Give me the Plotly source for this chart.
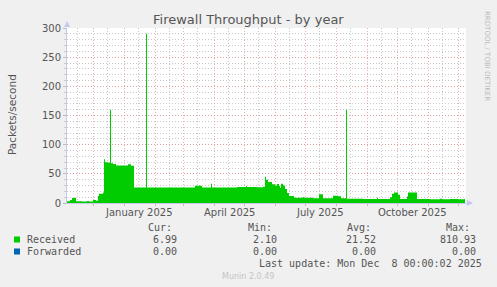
import plotly.graph_objects as go

# ---------------- data ----------------
dates = [
    "2024-11-05", "2024-11-08", "2024-11-10", "2024-11-12", "2024-11-14", "2024-11-20",
    "2024-11-25", "2024-11-27", "2024-12-01", "2024-12-04", "2024-12-06", "2024-12-07",
    "2024-12-11", "2024-12-12", "2024-12-13", "2024-12-16", "2024-12-18", "2024-12-19",
    "2024-12-21", "2024-12-24", "2025-01-05", "2025-01-08", "2025-01-11", "2025-01-23",
    "2025-01-24", "2025-03-13", "2025-03-20", "2025-03-29", "2025-03-30", "2025-04-24",
    "2025-05-03", "2025-05-04", "2025-05-14", "2025-05-20", "2025-05-22", "2025-05-23",
    "2025-05-25", "2025-05-29", "2025-06-01", "2025-06-03", "2025-06-05", "2025-06-06",
    "2025-06-07", "2025-06-09", "2025-06-11", "2025-06-13", "2025-06-15", "2025-06-20",
    "2025-06-29", "2025-06-30", "2025-07-09", "2025-07-15", "2025-07-19", "2025-07-29",
    "2025-08-03", "2025-08-06", "2025-08-11", "2025-08-12", "2025-08-28", "2025-09-11",
    "2025-09-12", "2025-09-24", "2025-09-26", "2025-09-28", "2025-10-02", "2025-10-04",
    "2025-10-11", "2025-10-12", "2025-10-21", "2025-11-03", "2025-11-13", "2025-11-15",
    "2025-11-23", "2025-12-01", "2025-12-07", "2025-12-08",
]
received = [
    3, 5, 8.5, 9, 3, 2.5,
    3.5, 2.5, 5, 4, 12, 16,
    18, 75, 70, 69, 160, 68,
    67, 64.5, 66.5, 64, 26.5, 290,
    26.5, 29.5, 26.5, 33, 26.5, 27.5,
    29, 27.5, 27, 28, 45, 40,
    36, 32, 30, 32.5, 29, 26,
    33, 30, 24, 17, 12, 9,
    10.5, 9, 8, 15, 8, 12.5,
    11.5, 8, 160, 7.5, 7, 9,
    7, 10, 16, 18, 14, 7,
    11, 18, 7, 6.5, 7.5, 6.5,
    7, 6.5, 7, 7,
]

series_names = ["Received", "Forwarded"]
series_colors = ["#00CC00", "#0066B3"]
stat_headers = ["Cur:", "Min:", "Avg:", "Max:"]
stats = {
    "Received": ["6.99", "2.10", "21.52", "810.93"],
    "Forwarded": ["0.00", "0.00", "0.00", "0.00"],
}

month_starts = [
    "2024-12-01", "2025-01-01", "2025-02-01", "2025-03-01", "2025-04-01", "2025-05-01",
    "2025-06-01", "2025-07-01", "2025-08-01", "2025-09-01", "2025-10-01", "2025-11-01",
    "2025-12-01",
]
mid_months = [
    "2024-11-15", "2024-12-15", "2025-01-15", "2025-02-15", "2025-03-15", "2025-04-15",
    "2025-05-15", "2025-06-15", "2025-07-15", "2025-08-15", "2025-09-15", "2025-10-15",
    "2025-11-15",
]
x_label_dates = ["2025-01-16", "2025-04-16", "2025-07-16", "2025-10-16"]
x_label_text = ["January 2025", "April 2025", "July 2025", "October 2025"]

# ---------------- layout helpers ----------------
W, H = 497, 287
L, R, T, B = 67, 466, 28, 203


def px(x):
    return (x - L) / (R - L)


def py(y):
    return (B - y) / (B - T)


TXT = "#555555"
MONO = "DejaVu Sans Mono"
SANS = "DejaVu Sans"
MAJOR = "rgba(230,140,140,0.7)"
MINOR = "rgba(195,195,195,0.9)"
AXIS = "#c4c8ee"
DASH = "1px,2px"

fig = go.Figure()
fig.add_trace(go.Scatter(
    x=dates, y=received, mode="lines", line=dict(color=series_colors[0], width=0, shape="hv"),
    fill="tozeroy", fillcolor=series_colors[0], hoverinfo="skip", showlegend=False,
))

annotations = []
# title
annotations.append(dict(x=px(248), y=py(19), xref="paper", yref="paper", text="Firewall Throughput - by year",
                        showarrow=False, font=dict(family=SANS, size=13, color=TXT), xanchor="center", yanchor="middle"))
# y title
annotations.append(dict(x=px(12), y=py(115), xref="paper", yref="paper", text="Packets/second", textangle=-90,
                        showarrow=False, font=dict(family=SANS, size=10.5, color=TXT), xanchor="center", yanchor="middle"))
# right vertical text
annotations.append(dict(x=px(487), y=py(56), xref="paper", yref="paper", text="RRDTOOL / TOBI OETIKER", textangle=90,
                        showarrow=False, font=dict(family=SANS, size=7, color="#bbbbbb"), xanchor="center", yanchor="middle"))
# x labels
for d, t in zip(x_label_dates, x_label_text):
    annotations.append(dict(x=d, y=py(212.5), xref="x", yref="paper", text=t, showarrow=False,
                            font=dict(family=SANS, size=10, color=TXT), xanchor="center", yanchor="middle"))
# legend headers
header_right = [173, 273, 372, 471]
value_right = [178, 278, 377, 477]
for h, xr in zip(stat_headers, header_right):
    annotations.append(dict(x=px(xr), y=py(227.5), xref="paper", yref="paper", text=h, showarrow=False,
                            font=dict(family=MONO, size=10, color=TXT), xanchor="right", yanchor="middle", borderpad=0))
row_y = [239.5, 251.5]
shapes = []
for name, color, ry in zip(series_names, series_colors, row_y):
    shapes.append(dict(type="rect", xref="paper", yref="paper", x0=px(14), x1=px(20), y0=py(ry - 3), y1=py(ry + 3),
                       fillcolor=color, line=dict(width=0)))
    annotations.append(dict(x=px(26), y=py(ry), xref="paper", yref="paper", text=name, showarrow=False,
                            font=dict(family=MONO, size=10, color=TXT), xanchor="left", yanchor="middle", borderpad=0))
    for v, xr in zip(stats[name], value_right):
        annotations.append(dict(x=px(xr), y=py(ry), xref="paper", yref="paper", text=v, showarrow=False,
                                font=dict(family=MONO, size=10, color=TXT), xanchor="right", yanchor="middle", borderpad=0))
annotations.append(dict(x=px(483), y=py(263.5), xref="paper", yref="paper",
                        text="Last update: Mon Dec\u00a0\u00a08 00:00:02 2025", showarrow=False,
                        font=dict(family=MONO, size=10, color=TXT), xanchor="right", yanchor="middle", borderpad=0))
annotations.append(dict(x=px(248), y=py(276), xref="paper", yref="paper", text="Munin 2.0.49", showarrow=False,
                        font=dict(family=SANS, size=8, color="#c4c4c4"), xanchor="center", yanchor="middle"))

# axis arrows
shapes.append(dict(type="path", xref="paper", yref="paper",
                   path=f"M {px(64)} {py(27)} L {px(70)} {py(27)} L {px(67)} {py(21)} Z",
                   fillcolor=AXIS, line=dict(width=0)))
shapes.append(dict(type="path", xref="paper", yref="paper",
                   path=f"M {px(467)} {py(200)} L {px(467)} {py(206)} L {px(473)} {py(203)} Z",
                   fillcolor=AXIS, line=dict(width=0)))
shapes.append(dict(type="line", xref="paper", yref="paper", x0=px(466), x1=px(468), y0=0, y1=0,
                   line=dict(color=AXIS, width=1)))

fig.update_layout(
    width=W, height=H,
    margin=dict(l=L, r=W - R, t=T, b=H - B, pad=0),
    paper_bgcolor="#F0F0F0", plot_bgcolor="#FFFFFF",
    showlegend=False,
    annotations=annotations, shapes=shapes,
    xaxis=dict(
        type="date", range=["2024-11-05", "2025-12-09"],
        tickvals=month_starts, ticktext=[""] * len(month_starts), showticklabels=False,
        ticks="outside", ticklen=2, tickcolor=MAJOR,
        showgrid=True, gridcolor=MAJOR, griddash=DASH, gridwidth=1,
        minor=dict(tickvals=mid_months, showgrid=True, gridcolor=MINOR, griddash=DASH, ticks=""),
        showline=True, linecolor=AXIS, linewidth=1, zeroline=False, fixedrange=True,
    ),
    yaxis=dict(
        range=[0, 300], tickvals=[0, 50, 100, 150, 200, 250, 300],
        ticks="outside", ticklen=3, tickcolor="#bbbbbb",
        tickfont=dict(family=SANS, size=10, color=TXT),
        showgrid=True, gridcolor=MAJOR, griddash=DASH, gridwidth=1,
        minor=dict(dtick=10, tick0=0, showgrid=True, gridcolor=MINOR, griddash=DASH,
                   ticks="outside", ticklen=2, tickcolor="#cccccc"),
        showline=True, linecolor=AXIS, linewidth=1, zeroline=False, fixedrange=True,
    ),
)

fig.write_html("out.html")
